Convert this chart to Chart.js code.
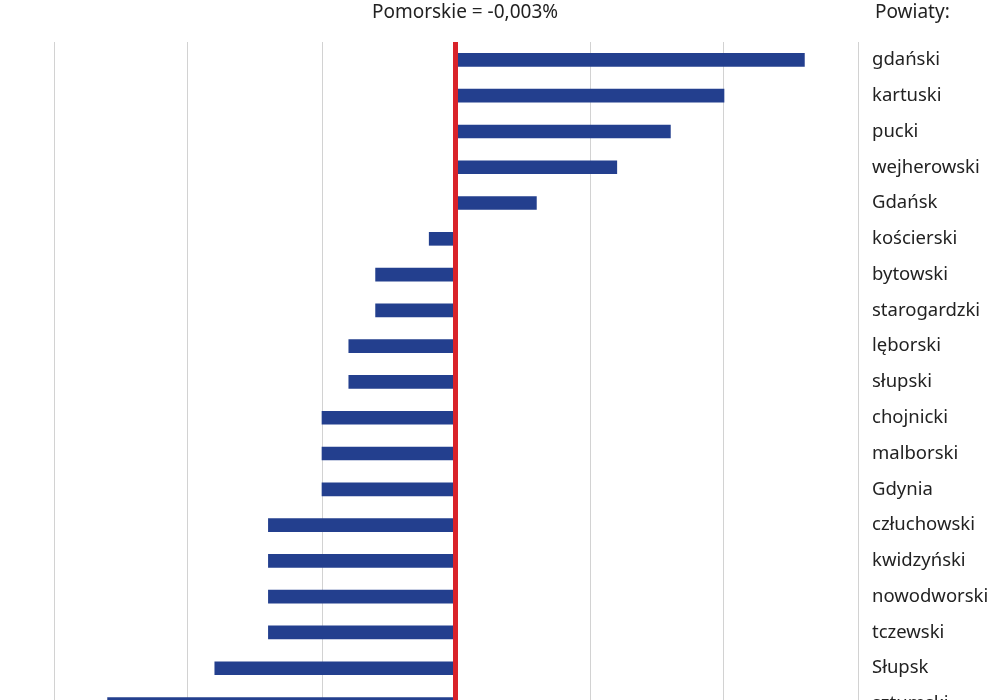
<!DOCTYPE html>
<html>
<head>
<meta charset="utf-8">
<script src="https://cdn.jsdelivr.net/npm/chart.js@4.4.0/dist/chart.umd.min.js"></script>
<style>
  html, body { margin: 0; padding: 0; background: #fff; overflow: hidden; }
  #wrap { width: 1000px; height: 747px; }
</style>
</head>
<body>
<div id="wrap"><canvas id="chart" width="1000" height="747"></canvas></div>
<script>
// powiaty, sorted as in the picture
const powiaty = [
  "gdański", "kartuski", "pucki", "wejherowski", "Gdańsk", "kościerski",
  "bytowski", "starogardzki", "lęborski", "słupski", "chojnicki", "malborski",
  "Gdynia", "człuchowski", "kwidzyński", "nowodworski", "tczewski", "Słupsk",
  "sztumski"
];
// change, %
const zmiana = [
  0.26, 0.20, 0.16, 0.12, 0.06, -0.02,
  -0.06, -0.06, -0.08, -0.08, -0.10, -0.10,
  -0.10, -0.14, -0.14, -0.14, -0.14, -0.18,
  -0.26
];
const title = "Pomorskie = -0,003%";
const header = "Powiaty:";

// red zero line + header texts
const extras = {
  id: "extras",
  afterDatasetsDraw(chart) {
    const { ctx, chartArea, scales } = chart;
    const x0 = scales.x.getPixelForValue(0);
    ctx.save();
    ctx.fillStyle = "#d9232a";
    ctx.fillRect(x0 - 3, chartArea.top, 5, chartArea.bottom - chartArea.top);

    ctx.fillStyle = "#222";
    ctx.font = '19px "Noto Sans"';
    ctx.textBaseline = "middle";
    ctx.textAlign = "center";
    ctx.fillText(title, x0 + 9, 13);
    ctx.textAlign = "left";
    ctx.fillText(header, scales.y.left + 17, 13);
    ctx.restore();
  }
};

new Chart(document.getElementById("chart"), {
  type: "bar",
  data: {
    labels: powiaty,
    datasets: [{
      data: zmiana,
      backgroundColor: "#233f8e",
      barThickness: 13,
      borderWidth: 0
    }]
  },
  options: {
    indexAxis: "y",
    responsive: false,
    animation: false,
    layout: { padding: { top: 42, left: 54, right: 0, bottom: 0 } },
    plugins: {
      legend: { display: false },
      tooltip: { enabled: false }
    },
    scales: {
      x: {
        min: -0.3,
        max: 0.3,
        ticks: { stepSize: 0.1, display: false },
        grid: { color: "#d2d2d2", lineWidth: 1, drawTicks: false },
        border: { display: false },
        afterFit(scale) { scale.height = 0; }
      },
      y: {
        position: "right",
        grid: { display: false, drawTicks: false },
        border: { display: false },
        ticks: {
          color: "#222",
          font: { family: "Noto Sans", size: 18.5 },
          padding: 14
        },
        afterFit(scale) { scale.width = 142; }
      }
    }
  },
  plugins: [extras]
});
</script>
</body>
</html>
